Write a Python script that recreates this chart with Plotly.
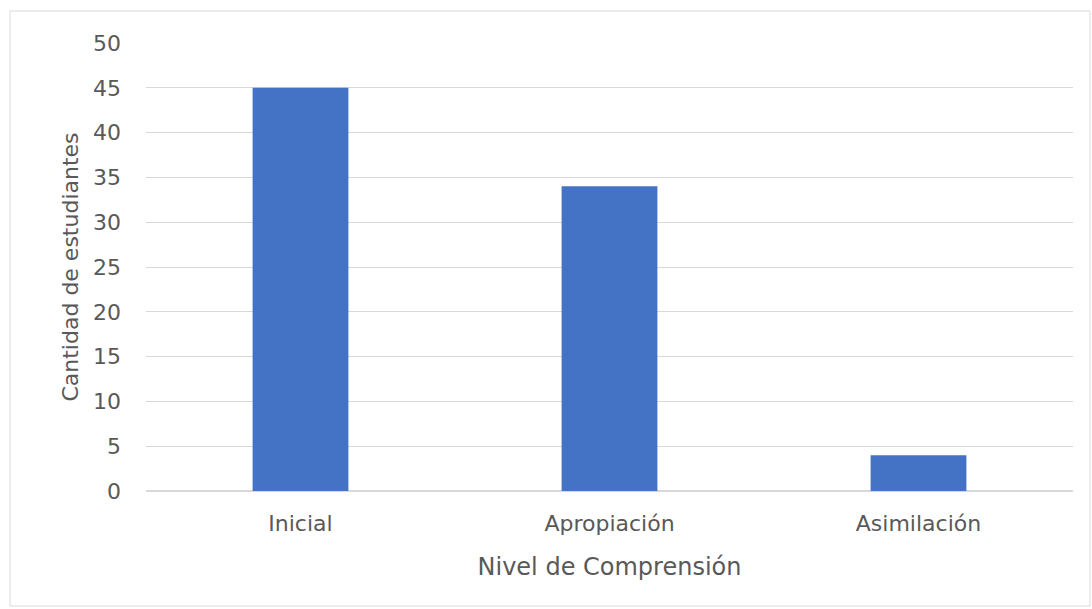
import plotly.graph_objects as go

categories = ["Inicial", "Apropiación", "Asimilación"]
values = [45, 34, 4]
y_ticks = [0, 5, 10, 15, 20, 25, 30, 35, 40, 45, 50]

W, H = 1092, 609
L, R, T, B = 146, 19, 43, 118
pw, ph = W - L - R, H - T - B

fig = go.Figure(go.Bar(x=categories, y=values, marker=dict(color="#4472C4", line=dict(width=0)), width=0.31))

font = "DejaVu Sans, sans-serif"
fig.update_layout(
    width=W, height=H,
    margin=dict(l=L, r=R, t=T, b=B),
    paper_bgcolor="white", plot_bgcolor="white",
    showlegend=False,
    font=dict(family=font, size=22, color="#595959"),
    xaxis=dict(
        title=dict(text="Nivel de Comprensión", font=dict(size=24, color="#595959"), standoff=22),
        showline=True, linecolor="#D9D9D9", linewidth=1,
        showgrid=False, ticks="", ticklabelstandoff=13,
        tickfont=dict(size=22, color="#595959"),
    ),
    yaxis=dict(
        title=dict(text="Cantidad de estudiantes", font=dict(size=22, color="#595959"), standoff=8),
        range=[0, 50], tickvals=y_ticks,
        showgrid=True, gridcolor="#D9D9D9", gridwidth=1,
        zeroline=True, zerolinecolor="#D9D9D9",
        ticks="", ticklabelstandoff=24,
        tickfont=dict(size=22, color="#595959"),
    ),
    shapes=[dict(
        type="rect", xref="paper", yref="paper",
        x0=(10 - L) / pw, x1=(1090 - L) / pw,
        y0=(T + ph - 606) / ph, y1=1 + (T - 11) / ph,
        line=dict(color="#D9D9D9", width=1), fillcolor="rgba(0,0,0,0)", layer="below",
    )],
)

fig.write_html("out.html")
